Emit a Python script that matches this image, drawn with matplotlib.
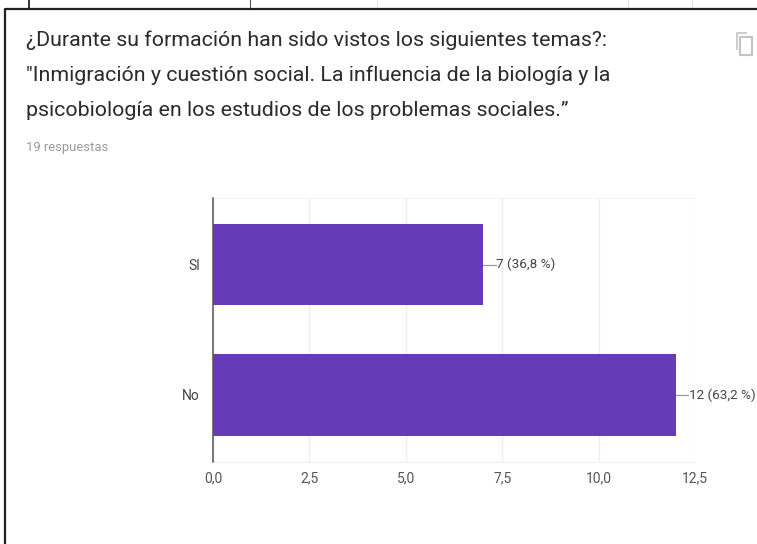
import matplotlib
matplotlib.use("Agg")
import matplotlib.pyplot as plt
from matplotlib.patches import Rectangle

categories = ["SI", "No"]
values = [7, 12]
value_labels = ["7 (36,8 %)", "12 (63,2 %)"]
x_ticks = [0, 2.5, 5, 7.5, 10, 12.5]
x_tick_labels = ["0,0", "2,5", "5,0", "7,5", "10,0", "12,5"]
title_lines = [
    "¿Durante su formación han sido vistos los siguientes temas?:",
    "\"Inmigración y cuestión social. La influencia de la biología y la",
    "psicobiología en los estudios de los problemas sociales.”",
]
subtitle = "19 respuestas"

W, H = 757, 544
plt.rcParams["font.family"] = ["Roboto", "DejaVu Sans"]

fig = plt.figure(figsize=(W / 100, H / 100), dpi=100)

# overlay in pixel coordinates for the screenshot frame and icon
bg = fig.add_axes([0, 0, 1, 1])
bg.set_xlim(0, W)
bg.set_ylim(H, 0)
bg.axis("off")
for x in [377, 628, 692]:
    bg.plot([x, x], [0, 8], color="#e2e2e2", lw=0.7)
bg.plot([29, 29], [0, 9], color="#222222", lw=1.3)
bg.plot([250, 250], [0, 9], color="#555555", lw=0.8)
bg.plot([4.7, 4.7, W], [H, 8.7, 8.7], color="#222222", lw=1.6)

title_y = [40, 75, 110]
for line, y in zip(title_lines, title_y):
    bg.text(26, y, line, fontsize=15.4, color="#2b2b2b", va="center", ha="left")
bg.text(26, 148, subtitle, fontsize=9.4, color="#9a9a9a", va="center", ha="left")

# copy icon
bg.add_patch(Rectangle((739.5, 36.5), 12.5, 18, fill=False, ec="#c4c4c4", lw=1.5))
bg.plot([736.5, 736.5, 746], [49, 32.5, 32.5], color="#c4c4c4", lw=1.2)

# chart
x0, x1 = 213, 695
y0, y1 = 198, 461.5
ax = fig.add_axes([x0 / W, 1 - y1 / H, (x1 - x0) / W, (y1 - y0) / H])
ax.patch.set_alpha(0)
pos = [1, 0]
ax.barh(pos, values, height=0.623, color="#673ab7", zorder=3)
ax.set_xlim(0, 12.5)
ax.set_ylim(-0.51, 1.51)
ax.set_xticks(x_ticks)
ax.set_xticklabels(x_tick_labels, fontsize=10, color="#555555")
ax.set_yticks(pos)
ax.set_yticklabels(categories, fontsize=10, color="#444444")
ax.tick_params(axis="both", length=0)
ax.tick_params(axis="x", pad=7)
ax.tick_params(axis="y", pad=9.4)
ax.grid(axis="x", color="#eeeeee", lw=1, zorder=0)
ax.spines["right"].set_visible(False)
ax.spines["top"].set_color("#f5f5f5")
ax.spines["bottom"].set_color("#eeeeee")
ax.spines["left"].set_color("#555555")
ax.spines["left"].set_linewidth(1.1)
ax.spines["left"].set_zorder(5)

for p, v, label in zip(pos, values, value_labels):
    ax.plot([v, v + 0.33], [p, p], color="#999999", lw=0.9, clip_on=False, zorder=2)
    ax.text(v + 0.35, p, label, fontsize=9.7, color="#444444", va="center", ha="left",
            clip_on=False)

fig.savefig("out.png", dpi=100)
